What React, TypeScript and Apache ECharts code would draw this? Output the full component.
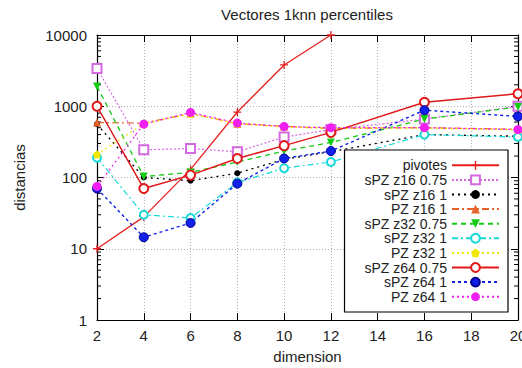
import React, { useEffect, useRef } from "react";
import * as echarts from "echarts";

const dims = [2, 4, 6, 8, 10, 12, 16, 20];
const pivotes = [10, 28, 130, 830, 3800, 10000, null, null];
const spzZ16_075 = [3400, 245, 255, 230, 370, 470, 660, 1000];
const spzZ16_1 = [560, 100, 90, 115, 180, 230, 400, 380];
const pzZ16_1 = [590, 580, 790, 570, 520, 490, 500, 475];
const spzZ32_075 = [1900, 103, 118, 165, 235, 310, 660, 980];
const spzZ32_1 = [190, 30, 27, 85, 135, 165, 400, 370];
const pzZ32_1 = [210, 570, 780, 570, 510, 490, 495, 465];
const spzZ64_075 = [1000, 70, 108, 185, 280, 430, 1140, 1500];
const spzZ64_1 = [70, 14.5, 23, 82, 185, 235, 880, 720];
const pzZ64_1 = [75, 560, 820, 580, 520, 500, 500, 470];

const xTicks = [2, 4, 6, 8, 10, 12, 14, 16, 18, 20];
const yDecades = [1, 10, 100, 1000];
const minorMultipliers = [2, 3, 4, 5, 6, 7, 8, 9];

const FONT = "'Liberation Sans', Arial, Helvetica, sans-serif";
const TXT = "#222";

const plusPath = "path://M4.2,0H5.8V4.2H10V5.8H5.8V10H4.2V5.8H0V4.2H4.2Z";
const downTri = "path://M0,0L10,0L5,9Z";
const pentagon = "path://M5,0L10,3.8L8.1,10L1.9,10L0,3.8Z";

type SeriesDef = {
  name: string;
  values: (number | null)[];
  color: string;
  dash: number[] | "solid";
  width: number;
  symbol: string;
  size: number;
  border?: string;
  borderWidth?: number;
};

const seriesDefs: SeriesDef[] = [
  { name: "pivotes", values: pivotes, color: "#e82020", dash: "solid", width: 1.3, symbol: plusPath, size: 8 },
  { name: "sPZ z16 0.75", values: spzZ16_075, color: "#d468e0", dash: [2, 2], width: 1.2, symbol: "emptyRect", size: 9, borderWidth: 1.3 },
  { name: "sPZ z16 1", values: spzZ16_1, color: "#000000", dash: [2, 4], width: 1.3, symbol: "circle", size: 6 },
  { name: "PZ z16 1", values: pzZ16_1, color: "#e8602a", dash: [7, 3, 2, 3], width: 1.2, symbol: "triangle", size: 8 },
  { name: "sPZ z32 0.75", values: spzZ32_075, color: "#14cc14", dash: [5, 4], width: 1.3, symbol: downTri, size: 8 },
  { name: "sPZ z32 1", values: spzZ32_1, color: "#18d8d8", dash: [6, 3, 2, 3], width: 1.2, symbol: "emptyCircle", size: 8, borderWidth: 1.3 },
  { name: "PZ z32 1", values: pzZ32_1, color: "#f0e800", dash: [2, 3], width: 1.2, symbol: pentagon, size: 8 },
  { name: "sPZ z64 0.75", values: spzZ64_075, color: "#e01818", dash: "solid", width: 1.5, symbol: "emptyCircle", size: 9, borderWidth: 2 },
  { name: "sPZ z64 1", values: spzZ64_1, color: "#1020e8", dash: [3, 3], width: 1.4, symbol: "circle", size: 9, border: "#000090", borderWidth: 1 },
  { name: "PZ z64 1", values: pzZ64_1, color: "#f020f0", dash: [2, 3], width: 1.3, symbol: "circle", size: 9 },
];

export default function App() {
  const ref = useRef<HTMLDivElement>(null);

  useEffect(() => {
    if (!ref.current) return;
    const chart = echarts.init(ref.current, undefined, { renderer: "svg" });

    const minorTicks: number[] = [];
    yDecades.forEach((d) => minorMultipliers.forEach((m) => minorTicks.push(d * m)));

    const lineSeries = seriesDefs.map((s) => ({
      name: s.name,
      type: "line",
      xAxisIndex: 0,
      yAxisIndex: 0,
      data: dims.map((d, i) => [d, s.values[i]]),
      connectNulls: false,
      symbol: s.symbol,
      symbolSize: s.size,
      showSymbol: true,
      lineStyle: { color: s.color, width: s.width, type: s.dash },
      itemStyle: {
        color: s.color,
        borderColor: s.border ?? s.color,
        borderWidth: s.borderWidth ?? 0,
      },
      emphasis: { disabled: true },
      z: 3,
    }));

    const axisCommon = {
      axisLine: { show: true, lineStyle: { color: "#000", width: 1.2 } },
      axisTick: { show: true, inside: true, length: 7, lineStyle: { color: "#000", width: 1 } },
    };

    const option: any = {
      animation: false,
      backgroundColor: "#ffffff",
      textStyle: { fontFamily: FONT },
      grid: { left: 97, right: 4, top: 35, bottom: 48, outerBoundsMode: "none", containLabel: false },
      graphic: [
        {
          type: "text",
          x: 307,
          y: 14,
          style: {
            text: "Vectores 1knn percentiles",
            font: `15px ${FONT}`,
            fill: TXT,
            align: "center",
            verticalAlign: "middle",
            textAlign: "center",
            textVerticalAlign: "middle",
          },
        },
      ],
      legend: {
        show: true,
        orient: "vertical",
        align: "right",
        right: 14,
        top: 150,
        padding: [8, 8, 8, 20],
        itemGap: 0,
        itemWidth: 47,
        itemHeight: 11,
        borderColor: "#000",
        borderWidth: 1.2,
        backgroundColor: "#ffffff",
        textStyle: { fontFamily: FONT, fontSize: 14, color: TXT, lineHeight: 14.6 },
        data: seriesDefs.map((s) => s.name),
        selectedMode: false,
        z: 10,
      },
      xAxis: [
        {
          type: "value",
          min: 2,
          max: 20,
          interval: 2,
          position: "bottom",
          ...axisCommon,
          axisLabel: {
            show: true,
            margin: 8,
            fontSize: 15,
            fontFamily: FONT,
            color: TXT,
            formatter: (v: number) => (xTicks.includes(v) ? String(v) : ""),
          },
          splitLine: { show: true, lineStyle: { color: "#b0b0b0", width: 1, type: [1, 2] } },
          name: "dimension",
          nameLocation: "middle",
          nameGap: 29,
          nameTextStyle: { fontSize: 15, fontFamily: FONT, color: TXT },
        },
        {
          type: "value",
          min: 2,
          max: 20,
          interval: 2,
          position: "top",
          ...axisCommon,
          axisLabel: { show: false },
          splitLine: { show: false },
        },
      ],
      yAxis: [
        {
          type: "log",
          logBase: 10,
          min: 1,
          max: 10000,
          splitNumber: 4,
          position: "left",
          ...axisCommon,
          axisLabel: {
            show: true,
            margin: 10,
            fontSize: 15,
            fontFamily: FONT,
            color: TXT,
            formatter: (v: number) => String(Math.round(v)),
          },
          splitLine: { show: true, lineStyle: { color: "#b0b0b0", width: 1, type: [1, 2] } },
          name: "distancias",
          nameLocation: "middle",
          nameGap: 70,
          nameTextStyle: { fontSize: 15, fontFamily: FONT, color: TXT },
        },
        {
          type: "log",
          logBase: 10,
          min: 1,
          max: 10000,
          splitNumber: 4,
          position: "right",
          ...axisCommon,
          axisLabel: { show: false },
          splitLine: { show: false },
        },
      ],
      series: [
        {
          type: "custom",
          xAxisIndex: 0,
          yAxisIndex: 0,
          silent: true,
          clip: false,
          z: 2,
          data: minorTicks.map((v) => [2, v]),
          encode: { x: 0, y: 1 },
          renderItem: (params: any, api: any) => {
            const v = api.value(1);
            const pL = api.coord([2, v]);
            const pR = api.coord([20, v]);
            return {
              type: "group",
              children: [
                { type: "line", shape: { x1: pL[0], y1: pL[1], x2: pL[0] + 4, y2: pL[1] }, style: { stroke: "#000", lineWidth: 1 } },
                { type: "line", shape: { x1: pR[0] - 4, y1: pR[1], x2: pR[0], y2: pR[1] }, style: { stroke: "#000", lineWidth: 1 } },
              ],
            };
          },
        },
        ...lineSeries,
      ],
    };

    chart.setOption(option);
    return () => {
      chart.dispose();
    };
  }, []);

  return (
    <div
      ref={ref}
      style={{ position: "fixed", left: 0, top: 0, width: 522, height: 368, background: "#fff" }}
    />
  );
}
